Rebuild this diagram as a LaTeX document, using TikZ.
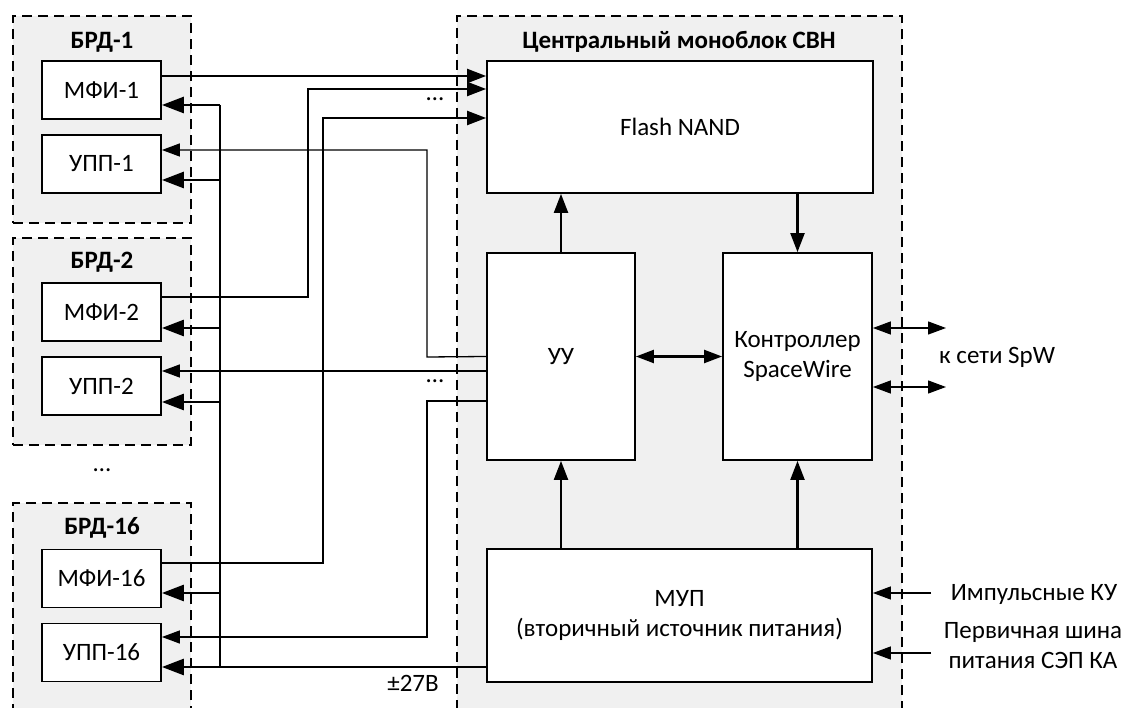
\documentclass[tikz,border=0pt]{standalone}
\usepackage{fontspec}
\setmainfont{Carlito}
\usetikzlibrary{arrows.meta}
\definecolor{contfill}{RGB}{240,240,240}
\begin{document}
\begin{tikzpicture}[x=1pt,y=-1pt,
  font=\fontsize{25pt}{30pt}\selectfont,
  cont/.style={draw=black, fill=contfill, line width=1.4pt, dash pattern=on 10pt off 6pt, inner sep=0pt},
  box/.style={draw=black, fill=white, line width=1.8pt, inner sep=0pt, align=center},
  small/.style={box, minimum width=119pt, minimum height=58pt},
  thk/.style={line width=2.8pt},
  med/.style={line width=2.2pt},
  thn/.style={line width=1.3pt},
  ath/.style={-{Triangle[length=22pt,width=16pt]}},
  amd/.style={-{Triangle[length=19pt,width=14pt]}},
  atn/.style={-{Triangle[length=18pt,width=13pt]}},
  dbl/.style={{Triangle[length=18pt,width=13pt]}-{Triangle[length=18pt,width=13pt]}},
  ttl/.style={font=\fontsize{25pt}{30pt}\selectfont\bfseries},
  lbl/.style={align=center, inner sep=0pt},
]
\useasboundingbox (0,0) rectangle (1125,708);
\clip (0,0) rectangle (1125,708);

% containers
\node[cont, minimum width=178pt, minimum height=207pt] (BRD1) at (102,119.5) {};
\node[cont, minimum width=178pt, minimum height=207pt] (BRD2) at (102,341.5) {};
\node[cont, minimum width=178pt, minimum height=227pt] (BRD16) at (102,616.5) {};
\node[cont, minimum width=445pt, minimum height=714pt] (CEN) at (679.5,373) {};

\node[ttl, lbl] (tBRD1) at (102,42) {БРД-1};
\node[ttl, lbl] (tBRD2) at (102,262) {БРД-2};
\node[ttl, lbl] (tBRD16) at (102,528) {БРД-16};
\node[ttl, lbl] (tCEN) at (679,42) {Центральный моноблок СВН};
\node[lbl] (dots1) at (102,470) {…};

% coordinates for bends
\coordinate (b2t) at (308,89);
\coordinate (b2b) at (308,297);
\coordinate (b16t) at (323,118);
\coordinate (b16b) at (323,563);
\coordinate (u1t) at (427,150);
\coordinate (u1b) at (427,357);
\coordinate (u16t) at (427,401);
\coordinate (u16b) at (427,637);
\coordinate (j1) at (220,105);
\coordinate (j2) at (220,180);
\coordinate (j3) at (220,328);
\coordinate (j4) at (220,402);
\coordinate (j5) at (220,593);
\coordinate (j6) at (220,667);
\coordinate (spw1) at (946,328);
\coordinate (spw2) at (946,387);
\coordinate (in1) at (931,593);
\coordinate (in2) at (931,653);

% boxes
\node[small] (MFI1) at (101.5,90) {МФИ-1};
\node[small] (UPP1) at (101.5,164) {УПП-1};
\node[small] (MFI2) at (101.5,312) {МФИ-2};
\node[small] (UPP2) at (101.5,386) {УПП-2};
\node[small] (MFI16) at (101.5,578.5) {МФИ-16};
\node[small] (UPP16) at (101.5,652.5) {УПП-16};
\node[box, minimum width=386pt, minimum height=132pt] (Flash) at (680,127) {Flash NAND};
\node[box, minimum width=148pt, minimum height=207pt] (UU) at (561,356.5) {УУ};
\node[box, minimum width=149pt, minimum height=207pt] (Ctrl) at (797.5,356.5) {Контроллер\\SpaceWire};
\node[box, minimum width=385pt, minimum height=133pt] (MUP) at (679.5,615.5) {МУП\\(вторичный источник питания)};

% МФИ -> Flash
\draw[med,amd] ([yshift=14pt]MFI1.east) -- ([yshift=51pt]Flash.west);
\draw[med,amd] ([yshift=15pt]MFI2.east) -- (b2b) -- (b2t) -- ([yshift=38pt]Flash.west);
\draw[med,amd] ([yshift=15.5pt]MFI16.east) -- (b16b) -- (b16t) -- ([yshift=9pt]Flash.west);
\node[lbl] (dots2) at (435,99) {…};

% УУ -> УПП (thin)
\draw[thn,atn] (UU.west) -- (u1b) -- (u1t) -- ([yshift=14pt]UPP1.east);
\draw[thn,atn] ([yshift=-14.5pt]UU.west) -- ([yshift=15pt]UPP2.east);
\draw[thn,atn] ([yshift=-44.5pt]UU.west) -- (u16t) -- (u16b) -- ([yshift=15.5pt]UPP16.east);
\node[lbl] (dots3) at (435,381) {…};

% power bus
\draw[thk] (j1) -- (j6);
\draw[thk,ath] ([yshift=-51.5pt]MUP.west) -- ([yshift=-14.5pt]UPP16.east);
\draw[thk,ath] (j1) -- ([yshift=-15pt]MFI1.east);
\draw[thk,ath] (j2) -- ([yshift=-16pt]UPP1.east);
\draw[thk,ath] (j3) -- ([yshift=-16pt]MFI2.east);
\draw[thk,ath] (j4) -- ([yshift=-16pt]UPP2.east);
\draw[thk,ath] (j5) -- ([yshift=-14.5pt]MFI16.east);
\node[lbl] (v27) at (413,683) {±27В};

% internal
\draw[med,amd] (UU.north) -- (UU.north |- Flash.south);
\draw[med,amd] (Ctrl.north |- Flash.south) -- (Ctrl.north);
\draw[med,dbl] (UU.east) -- (Ctrl.west);
\draw[med,amd] (UU.south |- MUP.north) -- (UU.south);
\draw[med,amd] (Ctrl.south |- MUP.north) -- (Ctrl.south);

% right side
\draw[thn,dbl] ([yshift=28.5pt]Ctrl.east) -- (spw1);
\draw[thn,dbl] ([yshift=-30.5pt]Ctrl.east) -- (spw2);
\node[lbl, anchor=west] (spw) at (939,357) {к сети SpW};
\draw[thn,atn] (in1) -- ([yshift=22.5pt]MUP.east);
\draw[thn,atn] (in2) -- ([yshift=-37.5pt]MUP.east);
\node[lbl] (tin1) at (1034,594) {Импульсные КУ};
\node[lbl] (tin2) at (1033,646) {Первичная шина\\питания СЭП КА};
\end{tikzpicture}
\end{document}
